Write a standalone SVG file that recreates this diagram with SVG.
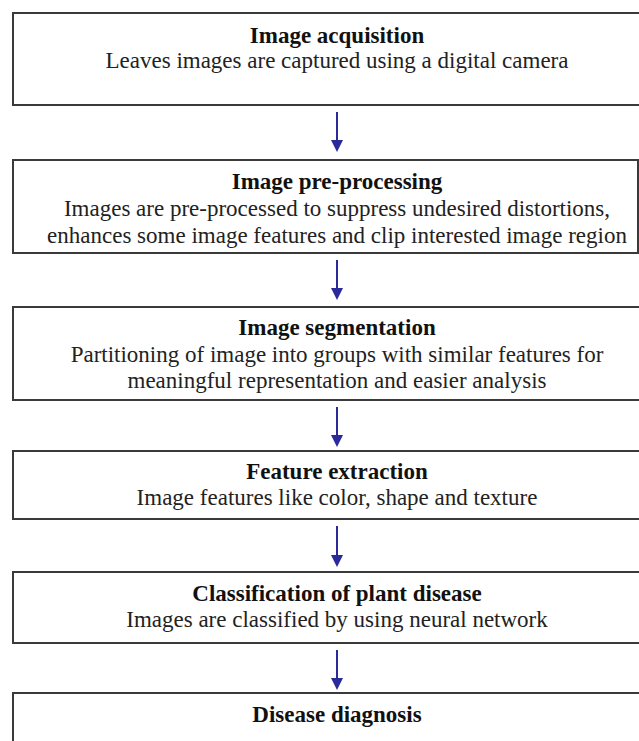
<svg xmlns="http://www.w3.org/2000/svg" width="639" height="741" viewBox="0 0 639 741">
<style>
.box{fill:#fff;stroke:#3a3a3a;stroke-width:2}
.t{font-family:"Liberation Serif","Times New Roman",serif;font-weight:bold;font-size:23px;fill:#111;text-anchor:middle}
.b{font-family:"Liberation Serif","Times New Roman",serif;font-size:23px;fill:#222;text-anchor:middle}
.c{stroke:#2a2a9a;stroke-width:2;fill:none}
.h{fill:#2a2a9a}
</style>
<rect width="639" height="741" fill="#fff"/>
<g id="n1"><rect class="box" x="13" y="13" width="630" height="92"/>
<text class="t" x="337" y="43">Image acquisition</text>
<text class="b" x="337" y="68">Leaves images are captured using a digital camera</text></g>
<g id="n2"><rect class="box" x="13" y="160" width="625" height="93"/>
<text class="t" x="337" y="189">Image pre-processing</text>
<text class="b" x="337" y="216">Images are pre-processed to suppress undesired distortions,</text>
<text class="b" x="337" y="243">enhances some image features and clip interested image region</text></g>
<g id="n3"><rect class="box" x="13" y="307" width="630" height="93"/>
<text class="t" x="337" y="335">Image segmentation</text>
<text class="b" x="337" y="362">Partitioning of image into groups with similar features for</text>
<text class="b" x="337" y="388">meaningful representation and easier analysis</text></g>
<g id="n4"><rect class="box" x="13" y="451" width="630" height="68"/>
<text class="t" x="337" y="479">Feature extraction</text>
<text class="b" x="337" y="505">Image features like color, shape and texture</text></g>
<g id="n5"><rect class="box" x="13" y="572" width="630" height="71"/>
<text class="t" x="337" y="601">Classification of plant disease</text>
<text class="b" x="337" y="627">Images are classified by using neural network</text></g>
<g id="n6"><rect class="box" x="13" y="693" width="630" height="60"/>
<text class="t" x="337" y="722">Disease diagnosis</text></g>
<g id="connectors">
<path d="M337 112 L337 142" class="c"/><path class="h" d="M331 140 L343 140 L337 152 Z"/>
<path d="M337 260 L337 290" class="c"/><path class="h" d="M331 288 L343 288 L337 300 Z"/>
<path d="M337 407 L337 437" class="c"/><path class="h" d="M331 435 L343 435 L337 447 Z"/>
<path d="M337 526 L337 557" class="c"/><path class="h" d="M331 555 L343 555 L337 567 Z"/>
<path d="M337 650 L337 680" class="c"/><path class="h" d="M331 678 L343 678 L337 690 Z"/>
</g>
</svg>
